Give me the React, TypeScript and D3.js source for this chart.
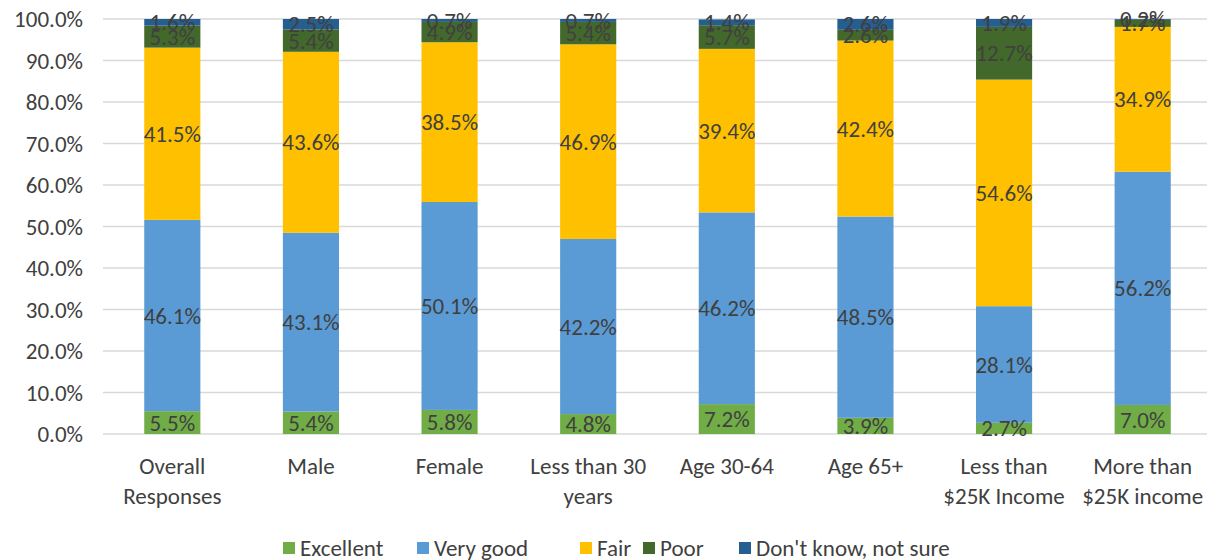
import React from "react";
import * as d3 from "d3";

const categories = [
  ["Overall", "Responses"],
  ["Male"],
  ["Female"],
  ["Less than 30", "years"],
  ["Age 30-64"],
  ["Age 65+"],
  ["Less than", "$25K Income"],
  ["More than", "$25K income"],
];
const seriesNames = ["Excellent", "Very good", "Fair", "Poor", "Don't know, not sure"];
const excellent = [5.5, 5.4, 5.8, 4.8, 7.2, 3.9, 2.7, 7.0];
const veryGood = [46.1, 43.1, 50.1, 42.2, 46.2, 48.5, 28.1, 56.2];
const fair = [41.5, 43.6, 38.5, 46.9, 39.4, 42.4, 54.6, 34.9];
const poor = [5.3, 5.4, 4.9, 5.4, 5.7, 2.6, 12.7, 1.7];
const dontKnow = [1.6, 2.5, 0.7, 0.7, 1.4, 2.6, 1.9, 0.2];
const yTicks = [0, 10, 20, 30, 40, 50, 60, 70, 80, 90, 100];
const colors = ["#70AD47", "#5B9BD5", "#FFC000", "#43682B", "#255E91"];

const W = 1207, H = 560;
const FONT = "Carlito, Calibri, Lato, 'Open Sans', sans-serif";
const TXT = "#404040";
const FS = 23;

export default function App() {
  const series = [excellent, veryGood, fair, poor, dontKnow];
  const x = d3.scaleBand<number>().domain(d3.range(categories.length)).range([103, 1212]).paddingInner(0.595).paddingOuter(0.2975);
  const y = d3.scaleLinear().domain([0, 100]).range([434, 19]);
  const legendX = [283, 417, 580, 643, 739];

  return (
    <svg width={W} height={H} style={{ position: "absolute", left: 0, top: 0, background: "#fff" }} fontFamily={FONT}>
      {yTicks.map((t) => (
        <g key={t}>
          <line x1={103} x2={1207} y1={y(t)} y2={y(t)} stroke="#d9d9d9" strokeWidth={1.5} />
          <text x={83} y={y(t)} dy="0.35em" textAnchor="end" fontSize={FS} fill={TXT}>{t.toFixed(1)}%</text>
        </g>
      ))}
      {categories.map((c, i) => {
        let cum = 0;
        return (
          <g key={i}>
            {series.map((s, k) => {
              const v = s[i];
              const y0 = y(cum), y1 = y(cum + v);
              cum += v;
              return <rect key={k} x={x(i)} width={x.bandwidth()} y={y1} height={y0 - y1} fill={colors[k]} />;
            })}
          </g>
        );
      })}
      {categories.map((c, i) => {
        let cum = 0;
        return (
          <g key={"l" + i}>
            {series.map((s, k) => {
              const v = s[i];
              const mid = y(cum + v / 2);
              cum += v;
              return (
                <text key={k} x={x(i)! + x.bandwidth() / 2} y={mid} dy="0.35em" textAnchor="middle" fontSize={FS} fill={TXT}>
                  {v.toFixed(1)}%
                </text>
              );
            })}
            {c.map((line, j) => (
              <text key={"c" + j} x={x(i)! + x.bandwidth() / 2} y={466 + j * 30} dy="0.35em" textAnchor="middle" fontSize={FS} fill={TXT}>
                {line}
              </text>
            ))}
          </g>
        );
      })}
      {seriesNames.map((n, k) => (
        <g key={n}>
          <rect x={legendX[k]} y={542} width={12} height={12} fill={colors[k]} />
          <text x={legendX[k] + 17} y={548} dy="0.35em" fontSize={FS} fill={TXT}>{n}</text>
        </g>
      ))}
    </svg>
  );
}
